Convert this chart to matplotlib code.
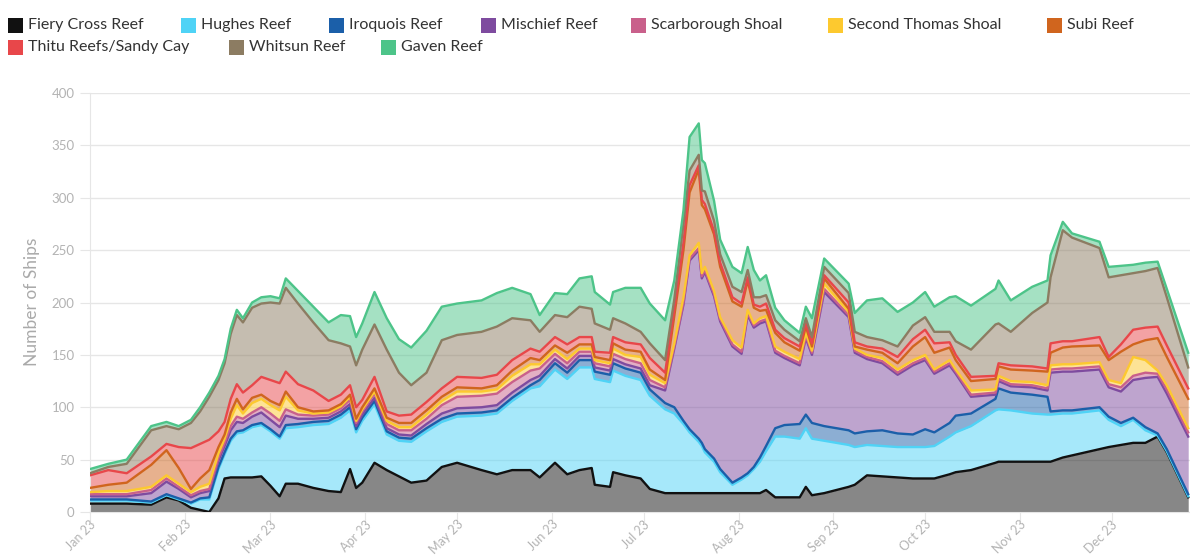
import matplotlib
matplotlib.use("Agg")
import matplotlib.pyplot as plt
import matplotlib.dates as mdates
from matplotlib.patches import Rectangle
import matplotlib.transforms as mtransforms
import numpy as np
import pandas as pd

dates = pd.to_datetime([
    "2023-01-01", "2023-01-07", "2023-01-13", "2023-01-21", "2023-01-26", "2023-01-30", "2023-02-03", "2023-02-06", "2023-02-09", "2023-02-12",
    "2023-02-14", "2023-02-16", "2023-02-18", "2023-02-20", "2023-02-23", "2023-02-26", "2023-03-01", "2023-03-04", "2023-03-06", "2023-03-10",
    "2023-03-15", "2023-03-20", "2023-03-24", "2023-03-27", "2023-03-29", "2023-03-31", "2023-04-04", "2023-04-08", "2023-04-12", "2023-04-16",
    "2023-04-21", "2023-04-26", "2023-05-01", "2023-05-09", "2023-05-14", "2023-05-19", "2023-05-25", "2023-05-28", "2023-06-02", "2023-06-06",
    "2023-06-10", "2023-06-14", "2023-06-15", "2023-06-20", "2023-06-21", "2023-06-25", "2023-06-30", "2023-07-03", "2023-07-08", "2023-07-11",
    "2023-07-14", "2023-07-16", "2023-07-19", "2023-07-20", "2023-07-21", "2023-07-24", "2023-07-26", "2023-07-30", "2023-08-02", "2023-08-04",
    "2023-08-06", "2023-08-08", "2023-08-10", "2023-08-13", "2023-08-16", "2023-08-21", "2023-08-23", "2023-08-25", "2023-08-29", "2023-09-06",
    "2023-09-08", "2023-09-12", "2023-09-17", "2023-09-22", "2023-09-27", "2023-10-01", "2023-10-04", "2023-10-09", "2023-10-11", "2023-10-16",
    "2023-10-24", "2023-10-25", "2023-10-29", "2023-11-05", "2023-11-10", "2023-11-11", "2023-11-15", "2023-11-18", "2023-11-27", "2023-11-30",
    "2023-12-04", "2023-12-08", "2023-12-12", "2023-12-16", "2023-12-19", "2023-12-26",
])

fiery_cross = [
    8, 8, 8, 7, 14, 11, 4, 2, 0, 13,
    32, 33, 33, 33, 33, 34, 25, 15, 27, 27,
    23, 20, 19, 41, 23, 28, 47, 40, 34, 28,
    30, 43, 47, 40, 36, 40, 40, 33, 47, 36,
    40, 42, 26, 24, 38, 35, 32, 22, 18, 18,
    18, 18, 18, 18, 18, 18, 18, 18, 18, 18,
    18, 18, 21, 14, 14, 14, 24, 16, 18, 24,
    26, 35, 34, 33, 32, 32, 32, 36, 38, 40,
    47, 48, 48, 48, 48, 48, 52, 54, 60, 62,
    64, 66, 66, 72, 57, 14,
]
hughes = [
    3, 3, 3, 2, 2, 1, 4, 10, 12, 28,
    23, 35, 42, 43, 48, 49, 52, 55, 53, 54,
    60, 64, 71, 56, 53, 59, 56, 34, 34, 39,
    47, 43, 44, 52, 58, 66, 78, 87, 89, 91,
    98, 96, 101, 100, 97, 95, 94, 89, 80, 76,
    66, 58, 49, 45, 39, 30, 20, 8, 13, 17,
    23, 30, 37, 58, 58, 56, 56, 54, 50, 40,
    36, 29, 29, 29, 30, 30, 31, 36, 38, 42,
    50, 50, 49, 46, 45, 45, 42, 40, 37, 26,
    18, 22, 12, 1, 1, 1,
]
iroquois = [
    1, 1, 1, 1, 1, 1, 1, 1, 2, 2,
    2, 2, 2, 2, 2, 2, 2, 2, 3, 3,
    3, 3, 3, 3, 3, 3, 3, 3, 3, 3,
    3, 3, 3, 3, 3, 3, 3, 6, 6, 6,
    7, 7, 7, 7, 7, 7, 7, 6, 6, 6,
    3, 3, 3, 3, 3, 3, 3, 2, 2, 2,
    2, 4, 5, 8, 11, 14, 13, 15, 14, 14,
    13, 13, 15, 13, 12, 17, 13, 13, 16, 12,
    11, 20, 17, 18, 17, 3, 3, 3, 3, 3,
    3, 2, 3, 2, 2, 2,
]
mischief = [
    3, 3, 3, 8, 12, 9, 5, 5, 6, 6,
    6, 8, 9, 7, 8, 10, 9, 9, 9, 5,
    3, 3, 3, 3, 3, 3, 3, 3, 3, 3,
    4, 5, 5, 5, 5, 5, 5, 4, 4, 4,
    4, 4, 4, 4, 4, 4, 4, 4, 12, 56,
    111, 161, 180, 157, 169, 155, 141, 130, 118, 151,
    133, 128, 119, 72, 64, 56, 73, 65, 128, 108,
    77, 69, 64, 56, 66, 66, 56, 55, 40, 16,
    4, 7, 6, 7, 6, 37, 37, 37, 36, 28,
    30, 36, 47, 54, 53, 55,
]
scarborough = [
    2, 2, 2, 3, 3, 2, 2, 2, 2, 3,
    3, 4, 5, 4, 4, 5, 6, 6, 6, 4,
    3, 3, 3, 4, 3, 3, 4, 4, 4, 5,
    5, 8, 11, 11, 11, 10, 9, 7, 5, 5,
    4, 4, 4, 4, 5, 5, 5, 5, 3, 2,
    2, 2, 2, 2, 2, 2, 2, 2, 2, 2,
    2, 2, 2, 2, 2, 2, 2, 2, 3, 2,
    2, 2, 2, 2, 2, 2, 2, 2, 2, 2,
    2, 2, 2, 2, 2, 3, 3, 3, 3, 3,
    4, 4, 5, 3, 4, 4,
]
second_thomas = [
    2, 3, 3, 3, 3, 3, 3, 4, 5, 4,
    4, 7, 11, 5, 9, 8, 8, 10, 12, 4,
    2, 2, 2, 3, 2, 2, 2, 3, 3, 3,
    4, 4, 5, 4, 4, 6, 6, 4, 4, 4,
    3, 3, 3, 3, 5, 4, 6, 5, 4, 3,
    5, 3, 5, 3, 3, 3, 2, 4, 4, 3,
    2, 3, 3, 4, 4, 4, 3, 2, 5, 3,
    2, 2, 3, 3, 3, 3, 2, 3, 2, 4,
    3, 3, 3, 3, 3, 4, 4, 4, 4, 4,
    4, 18, 12, 3, 4, 4,
]
subi = [
    4, 6, 8, 21, 24, 15, 3, 8, 13, 6,
    4, 6, 6, 4, 5, 4, 4, 5, 5, 3,
    2, 2, 2, 2, 2, 2, 3, 3, 4, 4,
    4, 4, 4, 3, 4, 5, 6, 4, 4, 6,
    4, 4, 3, 3, 5, 5, 5, 5, 3, 26,
    45, 60, 70, 65, 55, 54, 48, 37, 39, 28,
    15, 7, 6, 13, 9, 8, 6, 4, 5, 3,
    2, 5, 5, 6, 13, 17, 16, 12, 9, 9,
    10, 9, 11, 11, 13, 12, 16, 17, 16, 19,
    30, 12, 19, 31, 27, 28,
]
thitu = [
    12, 14, 9, 8, 6, 20, 39, 33, 29, 15,
    12, 13, 14, 16, 12, 17, 20, 21, 19, 22,
    20, 9, 9, 9, 11, 7, 11, 6, 7, 8,
    8, 8, 10, 10, 10, 10, 9, 8, 8, 8,
    7, 7, 5, 7, 6, 7, 7, 11, 7, 6,
    7, 7, 4, 5, 5, 3, 4, 4, 3, 3,
    3, 4, 6, 3, 4, 4, 3, 3, 3, 6,
    4, 3, 4, 6, 7, 7, 9, 5, 5, 4,
    3, 3, 4, 4, 3, 9, 6, 5, 8, 3,
    7, 14, 12, 11, 11, 10,
]
whitsun = [
    2, 3, 9, 25, 17, 17, 24, 31, 41, 49,
    56, 62, 66, 67, 74, 70, 74, 76, 80, 77,
    65, 58, 49, 37, 40, 48, 50, 59, 41, 28,
    28, 46, 40, 44, 46, 40, 27, 19, 21, 26,
    29, 27, 27, 22, 18, 18, 12, 14, 12, 10,
    18, 14, 10, 9, 12, 10, 8, 10, 11, 7,
    7, 9, 8, 9, 8, 5, 5, 6, 8, 9,
    10, 9, 8, 10, 13, 12, 11, 10, 13, 26,
    49, 38, 32, 51, 63, 63, 106, 99, 85, 76,
    66, 54, 54, 56, 46, 20,
]
gaven = [
    4, 3, 4, 4, 4, 3, 3, 4, 4, 4,
    4, 5, 5, 4, 5, 6, 6, 5, 9, 12,
    15, 17, 27, 29, 27, 25, 31, 30, 32, 36,
    40, 32, 30, 30, 32, 29, 25, 16, 21, 22,
    27, 31, 30, 24, 25, 34, 42, 38, 38, 18,
    13, 32, 30, 29, 27, 19, 14, 19, 18, 22,
    26, 16, 19, 12, 9, 8, 11, 18, 8, 9,
    18, 35, 40, 33, 22, 24, 24, 33, 43, 42,
    34, 41, 30, 25, 21, 21, 8, 4, 6, 10,
    9, 8, 8, 6, 8, 14,
]

series_names = ["Fiery Cross Reef", "Hughes Reef", "Iroquois Reef", "Mischief Reef",
                "Scarborough Shoal", "Second Thomas Shoal", "Subi Reef",
                "Thitu Reefs/Sandy Cay", "Whitsun Reef", "Gaven Reef"]
series_values = [fiery_cross, hughes, iroquois, mischief, scarborough,
                 second_thomas, subi, thitu, whitsun, gaven]
colors = ["#111111", "#4fd3f6", "#1b5fa9", "#7e4b9f", "#c9608b",
          "#fdc92f", "#d0651e", "#e8474a", "#8c7c62", "#4dc489"]

plt.rcParams['font.family'] = ['Lato', 'DejaVu Sans']

W, H = 1190, 559
fig = plt.figure(figsize=(W / 100, H / 100), dpi=100)
ax = fig.add_axes([90 / W, 47 / H, 1100 / W, 419 / H])

vals = np.array(series_values, dtype=float)
tops = np.cumsum(vals, axis=0)
bottom = np.zeros(len(dates))
for i, c in enumerate(colors):
    ax.fill_between(dates, bottom, tops[i], color=c, alpha=0.5, lw=0, zorder=2)
    bottom = tops[i]
for i, c in enumerate(colors):
    ax.plot(dates, tops[i], color=c, lw=1.7, zorder=3 + i, solid_joinstyle='round')

grid_c = "#e6e6e6"
lab_c = "#b3b3b3"
ax.set_ylim(0, 400)
ax.set_yticks(np.arange(0, 401, 50))
ax.set_xlim(pd.Timestamp("2023-01-01"), pd.Timestamp("2023-12-26 14:00"))
ax.xaxis.set_major_locator(mdates.MonthLocator())
ax.xaxis.set_major_formatter(mdates.DateFormatter("%b %y"))
ax.grid(axis='y', color=grid_c, lw=1, zorder=0)
ax.set_axisbelow(True)
for s in ["top", "right"]:
    ax.spines[s].set_visible(False)
ax.spines["left"].set_color(grid_c)
ax.spines["bottom"].set_color(grid_c)
ax.tick_params(axis='y', length=7, color=grid_c, labelcolor=lab_c, labelsize=9.5, pad=4)
ax.tick_params(axis='x', length=8, color=grid_c, labelcolor=lab_c, labelsize=9, pad=1)
offset = mtransforms.ScaledTranslation(4 / 100, 2 / 100, fig.dpi_scale_trans)
for lbl in ax.get_xticklabels():
    lbl.set_rotation(45)
    lbl.set_ha('right')
    lbl.set_va('center')
    lbl.set_rotation_mode('anchor')
    lbl.set_transform(lbl.get_transform() + offset)

fig.text(32 / W, 1 - 302 / H, "Number of Ships", rotation=90, ha='center', va='center',
         color="#aaaaaa", fontsize=12.5)

# legend (flow layout as in the reference)
row1 = [(8, 0), (181, 1), (329, 2), (481, 3), (631, 4), (828, 5), (1047, 6)]
row2 = [(8, 7), (229, 8), (381, 9)]
sq = 15
for y_c, row in [(25, row1), (47, row2)]:
    for x0, idx in row:
        fig.patches.append(Rectangle((x0 / W, 1 - (y_c + sq / 2) / H), sq / W, sq / H,
                                     transform=fig.transFigure, color=colors[idx], lw=0))
        fig.text((x0 + sq + 5) / W, 1 - y_c / H, series_names[idx], ha='left', va='center',
                 fontsize=11.5, color="#333333")

fig.savefig("out.png", dpi=100)
